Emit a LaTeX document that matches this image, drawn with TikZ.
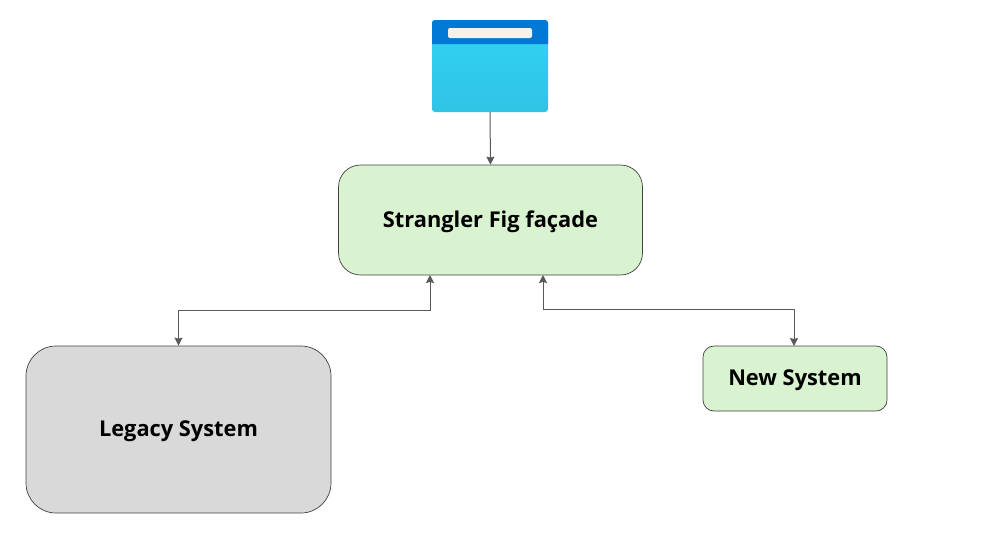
\documentclass[tikz,border=0pt]{standalone}
\usepackage{fontspec}
\setmainfont{Open Sans}
\usetikzlibrary{arrows.meta}
\definecolor{boxgreen}{HTML}{D9F2D0}
\definecolor{boxgray}{HTML}{D9D9D9}
\definecolor{boxline}{HTML}{404040}
\definecolor{arrowgray}{HTML}{595959}
\definecolor{winblue}{HTML}{0078D4}
\definecolor{wincyan}{HTML}{32D4F5}
\definecolor{winfoot}{HTML}{2FC3E4}
\definecolor{winbar}{HTML}{F2F2F2}
\tikzstyle{system} = [
    rectangle,
    draw=boxline,
    line width=0.7pt,
    text height=16pt,
    text depth=2pt,
    font=\fontsize{21.8}{26}\selectfont\bfseries
]
\tikzstyle{window} = [
    rectangle,
    rounded corners=3pt,
    minimum width=116pt,
    minimum height=92pt,
    top color=wincyan,
    middle color=wincyan,
    bottom color=winfoot
]
\tikzstyle{arrow} = [line width=1pt,arrowgray,{Stealth[length=8pt,width=8pt,inset=1pt]}-{Stealth[length=8pt,width=8pt,inset=1pt]}]
\tikzstyle{oneway} = [line width=1pt,arrowgray,-{Stealth[length=8pt,width=8pt,inset=1pt]}]

\begin{document}
\begin{tikzpicture}[x=1pt, y=-1pt]
\useasboundingbox (0,0) rectangle (983,539);

\node (client) [window] at (490,66) {};
\fill [winblue] (432,44) [rounded corners=3pt] -- (432,20) -- (548,20) [sharp corners] -- (548,44) -- cycle;
\fill [winbar, rounded corners=2pt] (448,28) rectangle (532,38);

\node (facade) [system, fill=boxgreen, rounded corners=22pt, minimum width=304pt, minimum height=110pt] at (490.5,220) {Strangler Fig façade};

\node (legacy) [system, fill=boxgray, rounded corners=30pt, minimum width=305pt, minimum height=167pt] at (178.5,429.5) {Legacy System};

\node (newsys) [system, fill=boxgreen, rounded corners=11pt, minimum width=184pt, minimum height=65pt] at (795,378.5) {New System};

\coordinate (legacyport) at (430,275);
\coordinate (legacybend) at (430,310);
\coordinate (newport) at (543,275);
\coordinate (newbend) at (543,309);
\coordinate (newtop) at (794,346);

\draw [oneway] (client.south) -- (facade.north);
\draw [arrow] (legacyport) -- (legacybend) -| (legacy.north);
\draw [arrow] (newport) -- (newbend) -| (newtop);

\end{tikzpicture}
\end{document}
